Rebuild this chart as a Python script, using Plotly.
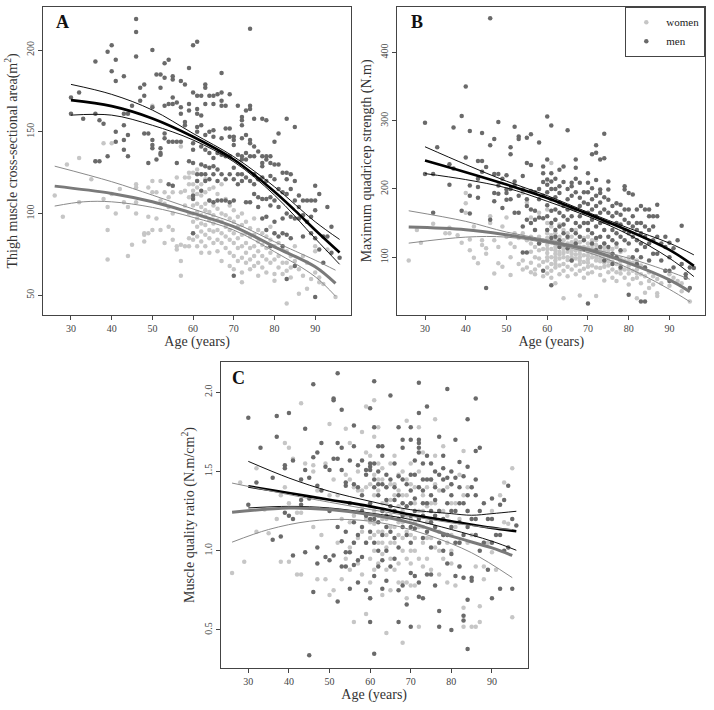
import plotly.graph_objects as go

# ---------------- DATA ----------------
# Panel A: thigh muscle cross-sectional area vs age
a_men = [(30,171),(30,161),(32,174),(33,158),(36,193),(36,161),(36,132),(37,132),(37,157),(38,155),
(39,199),(39,135),(40,203),(40,187),(41,194),(41,181),(41,150),(41,144),(43,184),(43,161),(43,154),(43,145),(43,139),
(44,161),(44,148),(44,135),(45,166),(46,219),(46,211),(46,196),(47,177),(47,169),(48,179),(48,172),(48,149),
(49,149),(49,131),(50,200),(50,165),(50,145),(50,142),(50,140),(51,185),(51,133),(52,185),(52,177),(52,140),(52,137),(52,136),
(53,192),(53,183),(53,166),(53,149),(53,146),(54,194),(54,167),(54,144),(54,118),(55,184),(55,182),(55,171),(55,167),(55,144),(55,117),
(56,168),(56,131),(56,144),(57,181),(57,165),(57,161),(57,144),(58,179),(58,156),(58,154),(59,189),(59,167),(59,163),(59,132),
(60,203),(60,174),(60,143),(60,139),(60,131),(60,111),(60,109),(60,88),(61,205),(61,172),(61,164),(61,161),(61,153),(61,150),(61,124),(61,120),
(62,172),(62,160),(62,154),(62,141),(62,130),(62,124),(62,114),(63,179),(63,177),(63,167),(63,148),(63,139),(63,129),(63,124),(63,120),
(64,172),(64,150),(64,137),(64,128),(64,121),(64,108),(65,172),(65,167),(65,151),(65,147),(65,134),(65,129),(65,124),(65,107),
(66,173),(66,137),(66,127),(66,120),(66,108),(67,186),(67,174),(67,169),(67,166),(67,146),(67,136),(67,124),(67,108),
(68,166),(68,152),(68,135),(68,121),(68,108),(69,173),(69,152),(69,147),(69,135),(69,124),(69,107),
(70,147),(70,145),(70,142),(70,128),(70,121),(70,108),(70,62),(71,166),(71,136),(71,124),(71,118),
(72,159),(72,157),(72,154),(72,146),(72,135),(72,133),(72,124),(72,120),(73,163),(73,148),(73,137),(73,133),(73,122),(73,107),
(74,213),(74,166),(74,164),(74,145),(74,143),(74,135),(74,120),(74,107),(75,158),(75,141),(75,135),(75,124),(75,118),(75,112),
(76,138),(76,121),(76,110),(76,104),(77,158),(77,135),(77,131),(77,129),(77,122),(77,109),(77,97),
(78,157),(78,135),(78,133),(78,120),(78,109),(78,98),(78,90),(79,135),(79,131),(79,123),(79,110),(79,105),(79,80),
(80,144),(80,130),(80,121),(80,108),(80,95),(80,88),(81,149),(81,130),(81,115),(81,104),(81,86),
(82,125),(82,113),(82,97),(82,88),(82,80),(83,158),(83,125),(83,121),(83,112),(83,100),(83,87),(83,60),
(84,124),(84,115),(84,98),(84,85),(85,153),(85,120),(85,108),(85,97),(85,68),(86,111),(86,104),(86,97),
(87,108),(87,99),(87,86),(88,108),(88,95),(89,108),(89,98),(89,88),(90,117),(90,108),(90,102),(90,85),(90,49),
(91,112),(91,78),(92,86),(92,70),(93,104),(93,86),(94,92),(94,76),(96,73)]

a_women = [(26,111),(28,98),(29,130),(32,134),(32,107),(35,121),(36,132),(38,143),(38,109),(39,104),(39,90),(39,72),
(40,143),(40,112),(41,100),(42,115),(43,107),(44,104),(44,74),(45,81),(46,118),(46,116),(46,107),(46,100),
(48,88),(48,87),(48,83),(49,116),(49,98),(49,88),(50,166),(50,120),(50,113),(50,90),(51,113),(51,97),
(52,120),(52,108),(52,90),(53,113),(53,106),(53,82),(54,110),(54,104),(54,92),(55,117),(55,113),(55,100),(55,90),(55,84),
(56,122),(56,80),(56,78),(57,141),(57,113),(57,81),(57,71),(57,62),(58,122),(58,114),(58,105),(58,80),
(59,125),(59,122),(59,118),(59,110),(59,100),(59,85),(59,80),(60,125),(60,118),(60,114),(60,110),(60,105),(60,100),(60,95),(60,88),(60,84),
(61,127),(61,120),(61,116),(61,112),(61,106),(61,101),(61,97),(61,92),(61,86),(61,80),
(62,124),(62,118),(62,111),(62,104),(62,99),(62,94),(62,89),(62,83),(62,76),(63,121),(63,113),(63,106),(63,102),(63,98),(63,93),(63,87),(63,80),
(64,115),(64,108),(64,101),(64,96),(64,90),(64,85),(64,76),(65,116),(65,105),(65,99),(65,94),(65,89),(65,82),
(66,112),(66,103),(66,96),(66,90),(66,84),(66,77),(67,118),(67,100),(67,95),(67,88),(67,82),(67,71),
(68,109),(68,99),(68,92),(68,86),(68,79),(69,105),(69,97),(69,90),(69,84),(69,76),(69,68),
(70,102),(70,95),(70,88),(70,82),(70,74),(70,66),(71,98),(71,92),(71,85),(71,79),(71,71),
(72,100),(72,93),(72,87),(72,80),(72,73),(72,64),(72,58),(73,95),(73,88),(73,82),(73,76),(73,70),
(74,91),(74,86),(74,79),(74,72),(74,66),(75,97),(75,87),(75,80),(75,74),(75,68),(76,90),(76,83),(76,77),(76,70),(76,62),
(77,88),(77,81),(77,74),(77,67),(78,86),(78,79),(78,72),(78,64),(79,92),(79,84),(79,76),(79,70),
(80,88),(80,80),(80,72),(80,63),(80,59),(81,82),(81,74),(81,67),(82,78),(82,70),(82,63),(83,77),(83,70),(83,65),(83,45),
(84,74),(84,67),(84,61),(85,71),(85,80),(86,66),(86,51),(87,62),(87,74),(88,54),(88,70),(89,60),
(90,80),(90,77),(90,64),(91,58),(91,61),(92,57),(93,78),(95,49)]

# fitted curves and confidence bands, panel A
a_fit_age_m = [30,40,50,60,70,80,85,90,96]
a_fit_m     = [169.4,165.7,158.2,147,133.1,113.4,102,90,76.2]
a_ci_age_m  = [30,40,50,60,70,80,90,96]
a_up_m      = [179,172.9,163.3,149,134.8,116.4,95,84.2]
a_lo_m      = [160.2,160.2,154,145,131.7,111.3,84.8,69]
a_fit_age_w = [26,40,50,60,70,80,90,95]
a_fit_w     = [116.8,112.3,107.2,100.1,92,79.7,67.5,57.3]
a_up_w      = [129,119.5,111.3,102.8,94.4,82.8,71.5,65.4]
a_lo_age_w  = [26,33,40,50,60,70,80,90,95]
a_lo_w      = [104.6,107.2,107.2,103.8,97.7,89.9,76.7,61.4,49.5]

# Panel B: maximum quadricep strength vs age
b_men_by_age = {
30:[297,222],32:[222,165],33:[261],36:[206,236],37:[290,230],39:[307,168],40:[350,246],41:[285,164,205,190],
43:[241,215,203,187],44:[282,241,225],45:[232,55],46:[450,264,155],47:[273,222,194,182],48:[298,222,193,205],
49:[215,172],50:[199,194,184,220],51:[261,251,200,185],52:[291,211,205,165],53:[277,273,190,165],54:[219,199,145,107],
55:[275,238,185,175,155,107],56:[280,235,197,170,150],57:[195,168,155,140],58:[268,200,185,158,120],
59:[233,223,210,190,157,80],60:[306,243,214,206,195,176,160,140],61:[293,223,211,200,185,168,150,128,59],
62:[215,200,188,170,155,140,130],63:[228,204,194,180,165,145,125,115],64:[233,210,175,160,148,135],
65:[286,200,185,170,155,130,113],66:[209,204,190,172,160,140,95],67:[243,231,215,195,170,150,135,120],
68:[209,187,175,160,145,130],69:[195,180,165,150,125,112],70:[223,209,195,178,165,150,140,32],
71:[251,201,185,170,155,135,120],72:[264,253,213,190,175,160,145,128,110],73:[243,199,194,180,165,150,130,115],
74:[281,245,188,170,152,140,120,95],75:[211,199,184,165,150,130,115],76:[175,160,140,125,105,90],
77:[179,165,150,135,120,100],78:[177,162,148,130,110,85],79:[204,199,170,155,140,125],80:[194,170,150,135,120,45],
81:[192,160,145,130,100],82:[170,150,140,125,110,90],83:[175,150,135,120,100,35],84:[170,145,130,115,85,35],
85:[170,160,140,120,95],86:[160,145,125,105],87:[177,160,130,105],88:[120,95],89:[130,115,80],90:[121,100,80,65],
91:[113,85],92:[125],93:[146,90],94:[70,75],95:[85,55],96:[84]}
b_women_by_age = {
26:[95],28:[140],29:[121],32:[149],35:[135],36:[135,143],38:[132],39:[121],40:[194,179,165],41:[126,110],42:[99,145],
43:[91],44:[125,118],45:[113,105],46:[150,160],47:[76,125],48:[91,115],49:[86,145],50:[158,130],51:[74,120,100],
52:[135,115],53:[128,90],54:[194,135,95,82],55:[180,125,85],56:[158,130,120,108,92,78],57:[140,115,100,82,75],
58:[165,130,120,110,98,88],59:[125,112,93,72],60:[170,150,140,135,128,118,112,106,100,95,85,76],
61:[238,145,132,122,112,100,90,80,70],62:[155,135,125,120,115,110,105,100,95,90,85,62],
63:[148,130,120,115,108,104,98,88,75],64:[140,125,118,112,106,100,90,80,40],65:[135,128,120,114,108,100,96,86,72],
66:[130,122,117,110,105,100,95,82],67:[140,125,118,110,104,98,88,75],68:[122,115,110,105,100,95,90,80,44],
69:[128,115,103,93,83,70],70:[140,130,120,114,108,102,97,92,86,76],71:[125,118,112,106,100,88,78],
72:[125,118,112,106,100,95,85,43],73:[115,110,104,98,94,84,74],74:[120,114,108,102,96,92,86,66],
75:[110,105,98,94,88,78],76:[112,105,100,93,82,70],77:[115,100,90,78,65],78:[108,98,94,88,82,76],
79:[110,95,82,70],80:[100,94,88,82,76,60],81:[92,80,68],82:[95,88,82,76,70,40],83:[88,75,62],84:[85,72,48],
85:[78,65,55],86:[72,60],87:[68,47,43],88:[62],89:[80],90:[75,58],91:[70],92:[65],93:[62,50],95:[35]}

b_fit_age_m = [30,40,50,60,70,80,90,96]
b_fit_m     = [241.7,224.5,206.4,186.8,163.2,138.7,110.8,87.3]
b_up_m      = [261.8,235.8,211.3,190.2,165.7,142.6,120.6,103.4]
b_lo_m      = [222.5,213.7,201.5,181.9,159.8,133,98.5,71.6]
b_fit_age_w = [26,40,50,60,70,80,90,95]
b_fit_w     = [144.1,140.2,132.8,123,110.8,91.2,66.7,49.5]
b_up_w      = [168,152.5,136.8,125.5,113.2,98.5,78.9,67.6]
b_lo_w      = [120.6,129.4,129.4,120.6,106.9,83.8,52.9,34.8]

# Panel C: muscle quality ratio vs age
c_men_by_age = {
30:[1.84,1.29],32:[1.43],33:[1.65],36:[1.46,1.07],37:[1.85,1.72],38:[1.09],39:[1.54,1.52,1.24],40:[1.87,1.22],
41:[1.57,1.20,0.97],43:[1.45,1.32,1.29],44:[1.77,1.51,0.99],45:[1.46,1.33,0.34],46:[2.05,1.59,0.74],
47:[1.62,1.41,1.02,0.92],48:[1.68,1.38],49:[1.53,0.96],50:[1.51,1.25,0.94],51:[1.96,1.95,1.58,0.97],
52:[2.12,1.68,1.58,1.15,0.68],53:[1.89,1.65,1.51,1.06,0.90],54:[1.43,1.41,1.12,0.99,0.90],55:[1.57,1.30,0.99,0.76],
56:[1.79,1.66,1.42,1.18,1.05,0.91],57:[1.54,1.40,1.10,0.94,0.80],58:[1.57,1.35,1.25,1.15,0.96],
59:[1.51,1.48,1.22,1.05,0.75],60:[1.90,1.55,1.53,1.51,1.30,1.20,1.12,0.70,0.55],
61:[2.07,1.78,1.55,1.45,1.40,1.20,1.05,0.84,0.35],62:[1.66,1.50,1.42,1.35,1.18,1.00,0.90],
63:[1.66,1.60,1.42,1.25,1.10,0.94,0.76],64:[1.48,1.40,1.32,1.22,1.15,1.00,0.81],65:[1.98,1.45,1.28,1.12,0.90],
66:[1.55,1.40,1.32,1.25,1.08,0.95],67:[1.78,1.47,1.35,1.20,1.02,0.75,0.55],68:[1.70,1.65,1.45,1.30,1.22,1.15,0.78],
69:[1.42,1.28,1.10,0.66],70:[1.78,1.70,1.48,1.38,1.30,1.22,1.15,1.05,0.86,0.52],71:[1.57,1.48,1.33,1.25,1.14,0.84],
72:[2.06,1.87,1.70,1.68,1.65,1.62,1.40,1.20,0.80,0.71],73:[1.55,1.45,1.38,1.30,1.22,1.08,0.70],
74:[1.91,1.60,1.45,1.30,1.12,0.85],75:[1.55,1.45,1.35,1.25,1.18,1.02,0.85],76:[1.50,1.40,1.32,1.22,1.15,0.78],
77:[1.72,1.48,1.25,1.05,0.62,0.52],78:[1.60,1.52,1.45,1.38,1.20,1.10,1.00],79:[2.02,1.46,1.30,1.10,0.92],
80:[1.50,1.42,1.35,1.25,1.15,0.98,0.50],81:[1.70,1.46,1.25,1.05,0.84],82:[1.56,1.40,1.30,1.18,1.05,0.90],
83:[1.47,1.30,1.10,0.83,0.59,0.56],84:[1.83,1.53,1.35,1.25,1.15,0.69,0.38],85:[1.40,1.20,0.83,0.81],
86:[1.96,1.63,1.45,1.35,1.20,1.10],87:[1.65,1.25,1.00],88:[1.30,1.05],89:[1.20,0.88],90:[1.33,1.20,1.05,0.70],
91:[1.10],92:[1.29,1.10,0.76],93:[1.32,1.00],94:[1.41,1.02],95:[1.20,0.76],96:[1.16]}
c_women_by_age = {
26:[0.86],28:[1.43],29:[0.93],32:[1.52,1.12],34:[1.26],35:[1.11],37:[1.20],38:[0.93,1.35],39:[1.68,1.40],
40:[1.65,0.93,1.30],41:[1.58],42:[0.85,1.24],43:[1.93,0.85,1.24],44:[1.55],46:[1.54,1.50,1.15],47:[0.82,1.38],
48:[1.10],49:[0.82,1.55],50:[1.80,0.72,1.35],51:[0.75,1.45],52:[1.35,1.05],53:[1.20,0.82],54:[1.77,1.48,0.95],
55:[1.68,1.45,1.18,1.02,0.88],56:[0.55,1.40,1.22,1.05],57:[1.50,1.38,1.25,1.08,0.92],58:[1.75,1.38,1.28,1.12,0.85],
59:[1.91,1.62,1.40,1.20,1.05,0.60],60:[1.60,1.42,1.28,1.18,1.08,0.95,0.80,0.70],
61:[1.95,1.72,1.48,1.35,1.25,1.17,1.10,1.00,0.88],62:[1.78,1.55,1.45,1.38,1.22,1.12,1.05,0.92],
63:[1.52,1.45,1.30,1.20,1.12,1.05,0.98,0.72],64:[0.48,1.40,1.30,1.20,1.10,1.02,0.88],
65:[1.55,1.42,1.32,1.22,1.15,1.05,0.95,0.75],66:[1.60,1.42,1.35,1.25,1.15,1.05,0.88],
67:[1.48,1.38,1.28,1.18,1.10,0.92,0.80],68:[0.42,1.50,1.35,1.25,1.18,1.08,1.00,0.80],
69:[1.82,1.45,1.35,1.22,1.12,0.95,0.80,0.70],70:[1.55,1.42,1.30,1.20,1.10,1.00,0.92,0.78],
71:[1.40,1.30,1.18,1.08,1.00,0.78],72:[1.78,1.50,1.40,1.25,1.15,0.95,0.52],73:[1.62,1.35,1.25,1.15,1.05,0.90],
74:[1.40,1.28,1.18,1.08,0.95],75:[1.45,1.30,1.20,1.08,0.88],76:[1.83,1.60,1.42,1.30,1.15,1.02],
77:[1.38,1.25,1.12,1.00,0.85],78:[1.66,1.38,1.25,1.10,0.95],79:[1.40,1.22,1.05,0.80],80:[1.42,1.30,1.10,1.00,0.92],
81:[1.30,1.15,0.78],82:[1.48,1.20,1.05,0.90],83:[1.63,1.35,0.64,0.52],84:[1.40,1.25,1.05],85:[1.40,1.10,0.52],
86:[0.90,0.52],87:[0.65,0.55],88:[1.05,0.90,0.82],89:[1.05],90:[1.25,0.99],91:[0.88],92:[1.35],93:[1.18,1.43],
94:[1.17],95:[1.52,0.58]}

c_fit_age_m = [30,40,50,60,70,80,90,96]
c_fit_m     = [1.406,1.364,1.322,1.280,1.228,1.186,1.144,1.123]
c_up_age_m  = [30,40,50,60,70,80,85,90,96]
c_up_m      = [1.564,1.459,1.375,1.312,1.259,1.234,1.224,1.234,1.249]
c_lo_m      = [1.27,1.28,1.27,1.238,1.197,1.134,1.06,1.003]
c_fit_age_w = [26,40,50,60,70,80,90,95]
c_fit_w     = [1.243,1.27,1.26,1.228,1.176,1.092,1.018,0.97]
c_up_w      = [1.427,1.354,1.306,1.26,1.218,1.176,1.144,1.134]
c_lo_age_w  = [26,35,45,55,65,75,85,95]
c_lo_w      = [1.054,1.134,1.186,1.197,1.165,1.092,0.987,0.830]

x_ticks = [30, 40, 50, 60, 70, 80, 90]
a_yticks = [50, 100, 150, 200]
b_yticks = [100, 200, 300, 400]
c_yticks = [0.5, 1.0, 1.5, 2.0]
c_yticklabels = ["0.5", "1.0", "1.5", "2.0"]

# ---------------- FIGURE ----------------
FONT = "Liberation Serif, Times New Roman, serif"
W_COL = "#c6c6c6"
M_COL = "#6a6a6a"
FRAME = "#444444"

fig = go.Figure()

def pairs(d):
    xs, ys = [], []
    for k, vals in d.items():
        for v in vals:
            xs.append(k); ys.append(v)
    return xs, ys

def pts(xs, ys, ax, color, name, show):
    fig.add_trace(go.Scatter(x=xs, y=ys, mode="markers", xaxis="x" + ax, yaxis="y" + ax,
                             marker=dict(color=color, size=4.5, line=dict(width=0)),
                             name=name, legendgroup=name, showlegend=show, hoverinfo="x+y"))

def line(xs, ys, ax, color, width):
    fig.add_trace(go.Scatter(x=xs, y=ys, mode="lines", xaxis="x" + ax, yaxis="y" + ax,
                             line=dict(color=color, width=width, shape="spline", smoothing=1.0),
                             showlegend=False, hoverinfo="skip"))

# Panel A
pts([p[0] for p in a_women], [p[1] for p in a_women], "", W_COL, "women", True)
pts([p[0] for p in a_men], [p[1] for p in a_men], "", M_COL, "men", True)
line(a_ci_age_m, a_up_m, "", "#111111", 1)
line(a_ci_age_m, a_lo_m, "", "#111111", 1)
line(a_fit_age_m, a_fit_m, "", "#000000", 2.6)
line(a_fit_age_w, a_up_w, "", "#8a8a8a", 1)
line(a_lo_age_w, a_lo_w, "", "#8a8a8a", 1)
line(a_fit_age_w, a_fit_w, "", "#7a7a7a", 3)

# Panel B
bx, by = pairs(b_women_by_age); pts(bx, by, "2", W_COL, "women", False)
bx, by = pairs(b_men_by_age); pts(bx, by, "2", M_COL, "men", False)
line(b_fit_age_m, b_up_m, "2", "#111111", 1)
line(b_fit_age_m, b_lo_m, "2", "#111111", 1)
line(b_fit_age_m, b_fit_m, "2", "#000000", 2.6)
line(b_fit_age_w, b_up_w, "2", "#8a8a8a", 1)
line(b_fit_age_w, b_lo_w, "2", "#8a8a8a", 1)
line(b_fit_age_w, b_fit_w, "2", "#7a7a7a", 3)

# Panel C
cx, cy = pairs(c_women_by_age); pts(cx, cy, "3", W_COL, "women", False)
cx, cy = pairs(c_men_by_age); pts(cx, cy, "3", M_COL, "men", False)
line(c_up_age_m, c_up_m, "3", "#111111", 1)
line(c_fit_age_m, c_lo_m, "3", "#111111", 1)
line(c_fit_age_m, c_fit_m, "3", "#000000", 2.6)
line(c_fit_age_w, c_up_w, "3", "#8a8a8a", 1)
line(c_lo_age_w, c_lo_w, "3", "#8a8a8a", 1)
line(c_fit_age_w, c_fit_w, "3", "#7a7a7a", 3)

W, H = 714, 710
def fx(px): return px / W
def fy(py): return 1 - py / H

axis_common = dict(showline=True, mirror=True, linecolor=FRAME, linewidth=1, ticks="outside",
                   ticklen=4, tickcolor=FRAME, showgrid=False, zeroline=False, automargin=False,
                   tickfont=dict(family=FONT, size=10, color="#444444"))

def xax(dom, anchor):
    return dict(axis_common, domain=dom, anchor=anchor, range=[23.2, 98.8], tickvals=x_ticks,
                title=dict(text="Age (years)", font=dict(family=FONT, size=14, color="#333333"), standoff=2))

def yax(dom, anchor, rng, tv, tt, title):
    return dict(axis_common, domain=dom, anchor=anchor, range=rng, tickvals=tv, ticktext=tt, tickangle=-90,
                title=dict(text=title, font=dict(family=FONT, size=14, color="#333333"), standoff=4))

fig.update_layout(
    width=W, height=H, margin=dict(l=0, r=0, t=0, b=0, autoexpand=False),
    paper_bgcolor="white", plot_bgcolor="white",
    xaxis=xax([fx(43.3), fx(351)], "y"),
    yaxis=yax([fy(315), fy(6.7)], "x", [38, 226.5], a_yticks, [str(v) for v in a_yticks],
              "Thigh muscle cross-sectional area(m<sup>2</sup>)"),
    xaxis2=xax([fx(397.3), fx(705.3)], "y2"),
    yaxis2=yax([fy(315), fy(6.7)], "x2", [15.3, 467], b_yticks, [str(v) for v in b_yticks],
               "Maximum quadricep strength (N.m)"),
    xaxis3=xax([fx(220.7), fx(527.7)], "y3"),
    yaxis3=yax([fy(668.3), fy(361.7)], "x3", [0.258, 2.193], c_yticks, c_yticklabels,
               "Muscle quality ratio (N.m/cm<sup>2</sup>)"),
    legend=dict(x=fx(705.3), xanchor="right", y=fy(6.7), yanchor="top", bgcolor="white",
                bordercolor=FRAME, borderwidth=1, font=dict(family=FONT, size=11, color="#222222"),
                itemwidth=30, tracegroupgap=0),
    font=dict(family=FONT),
    annotations=[
        dict(text="<b>A</b>", x=fx(62), y=fy(22), xref="paper", yref="paper", showarrow=False,
             xanchor="center", yanchor="middle", font=dict(family=FONT, size=18, color="#111111")),
        dict(text="<b>B</b>", x=fx(417), y=fy(22), xref="paper", yref="paper", showarrow=False,
             xanchor="center", yanchor="middle", font=dict(family=FONT, size=18, color="#111111")),
        dict(text="<b>C</b>", x=fx(238), y=fy(378), xref="paper", yref="paper", showarrow=False,
             xanchor="center", yanchor="middle", font=dict(family=FONT, size=18, color="#111111")),
    ],
)

fig.write_html("out.html", config={"displayModeBar": False},
               post_script="document.body.style.margin='0';document.body.style.padding='0';")
